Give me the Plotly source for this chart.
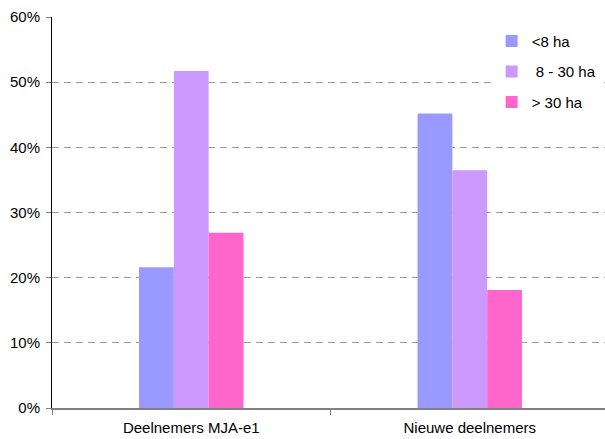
import plotly.graph_objects as go

# Share of participants per farm-size class
categories = ["Deelnemers MJA-e1", "Nieuwe deelnemers"]
series_names = ["<8 ha", " 8 - 30 ha", "> 30 ha"]
small = [0.216, 0.452]
medium = [0.517, 0.365]
large = [0.269, 0.181]
series_values = [small, medium, large]
colors = ["#9999FF", "#CC99FF", "#FF66CC"]
y_ticks = [0, 0.1, 0.2, 0.3, 0.4, 0.5, 0.6]

FONT = "Liberation Sans, Arial, sans-serif"

fig = go.Figure()
for i, (name, vals, col) in enumerate(zip(series_names, series_values, colors)):
    fig.add_trace(go.Bar(
        x=categories, y=vals, name=name, legendgroup=f"g{i}",
        marker=dict(color=col, line=dict(width=0)),
    ))

fig.update_layout(
    width=605, height=439,
    margin=dict(l=52, r=0, t=17, b=31),
    paper_bgcolor="white", plot_bgcolor="white",
    barmode="group", bargap=0.625, bargroupgap=0,
    font=dict(family=FONT, size=15, color="#000000"),
    showlegend=True,
    legend=dict(
        x=0.795, y=0.98, xanchor="left", yanchor="top",
        bgcolor="white", borderwidth=0,
        font=dict(family=FONT, size=15, color="#000000"),
        itemwidth=30, tracegroupgap=8, traceorder="grouped",
    ),
    xaxis=dict(
        type="category", range=[-0.5, 1.4856],
        showline=True, linecolor="#808080", linewidth=2,
        ticks="outside", tickson="boundaries", ticklen=5,
        tickcolor="#808080", tickwidth=1,
        showgrid=False, ticklabelstandoff=5,
        tickfont=dict(family=FONT, size=15),
    ),
    yaxis=dict(
        range=[0, 0.6], tickvals=y_ticks, tickformat=".0%",
        showline=True, linecolor="#000000", linewidth=1,
        ticks="outside", ticklen=5, tickcolor="#808080",
        showgrid=True, gridcolor="#9c9c9c", gridwidth=1,
        griddash="7px,5px", zeroline=False, ticklabelstandoff=3,
        tickfont=dict(family=FONT, size=15),
    ),
)

fig.write_html("out.html")
